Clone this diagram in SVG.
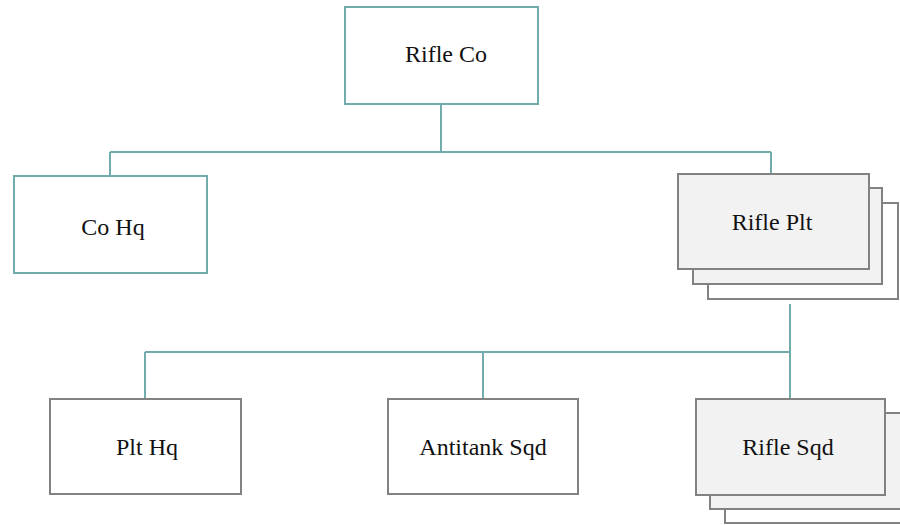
<svg xmlns="http://www.w3.org/2000/svg" width="900" height="525" viewBox="0 0 900 525">
<style>
.teal{fill:#ffffff;stroke:#72abab;stroke-width:2}
.gray{fill:#ffffff;stroke:#828282;stroke-width:2}
.grayf{fill:#f2f2f2;stroke:#828282;stroke-width:2}
.lbl{font-family:"Liberation Serif","DejaVu Serif",serif;font-size:24px;fill:#111111;text-anchor:middle}
.conn{fill:none;stroke:#72abab;stroke-width:2}
</style>
<rect width="900" height="525" fill="#ffffff"/>
<g id="connectors">
<path class="conn" d="M441,104 V152 M110,152 H771 M110,152 V176 M771,152 V174"/>
<path class="conn" d="M790,304 V352 M145,352 H790 M145,352 V399 M483,352 V399 M790,352 V399"/>
</g>
<g id="rifle-co">
<rect class="teal" x="345" y="7" width="193" height="97"/>
<text class="lbl" x="446" y="62">Rifle Co</text>
</g>
<g id="co-hq">
<rect class="teal" x="14" y="176" width="193" height="97"/>
<text class="lbl" x="113" y="235">Co Hq</text>
</g>
<g id="rifle-plt">
<rect class="gray" x="708" y="203" width="190" height="96"/>
<rect class="grayf" x="693" y="188" width="189" height="96"/>
<rect class="grayf" x="678" y="174" width="191" height="95"/>
<text class="lbl" x="772" y="230">Rifle Plt</text>
</g>
<g id="plt-hq">
<rect class="gray" x="50" y="399" width="191" height="95"/>
<text class="lbl" x="147" y="455">Plt Hq</text>
</g>
<g id="antitank-sqd">
<rect class="gray" x="388" y="399" width="190" height="95"/>
<text class="lbl" x="483" y="455">Antitank Sqd</text>
</g>
<g id="rifle-sqd">
<rect class="gray" x="725" y="428" width="190" height="95"/>
<rect class="grayf" x="710" y="413" width="200" height="96"/>
<rect class="grayf" x="696" y="399" width="189" height="96"/>
<text class="lbl" x="788" y="455">Rifle Sqd</text>
</g>
</svg>
